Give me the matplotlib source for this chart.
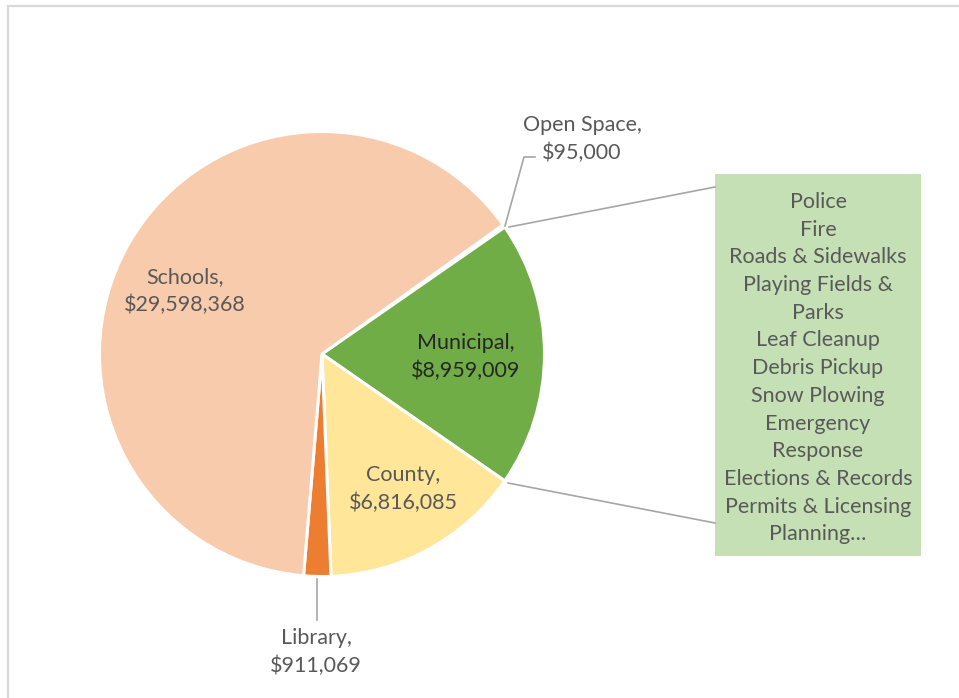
import matplotlib.pyplot as plt
from matplotlib.patches import Rectangle

# Data
labels = ["Open Space", "Municipal", "County", "Library", "Schools"]
amounts = [95000, 8959009, 6816085, 911069, 29598368]
colors = ["#FFFFFF", "#70AD47", "#FFE699", "#ED7D31", "#F8CBAD"]
services = ["Police", "Fire", "Roads & Sidewalks", "Playing Fields &", "Parks",
            "Leaf Cleanup", "Debris Pickup", "Snow Plowing", "Emergency",
            "Response", "Elections & Records", "Permits & Licensing", "Planning\u2026"]

W, H = 959, 698
plt.rcParams['font.family'] = ['Lato', 'DejaVu Sans']

fig = plt.figure(figsize=(W / 100, H / 100), dpi=100)
ax = fig.add_axes([0, 0, 1, 1])
ax.set_xlim(0, W)
ax.set_ylim(0, H)
ax.axis('off')


def Y(y):
    # pixel row from top -> data y
    return H - y


cx, cy, r = 322, 354, 222.5
ax.pie(amounts, colors=colors, startangle=35.5, counterclock=False,
       center=(cx, Y(cy)), radius=r,
       wedgeprops=dict(edgecolor='white', linewidth=2.2))
ax.set_xlim(0, W)
ax.set_ylim(0, H)
ax.set_aspect('auto')

# outer border (chart area)
ax.add_patch(Rectangle((8, -5), W, Y(6) + 5, fill=False,
                       edgecolor='#D9D9D9', linewidth=1.6))

txt = '#595959'
fs = 15.5
lw = 1.2
lc = '#A6A6A6'


def label(x, y, lines, color=txt):
    for i, s in enumerate(lines):
        ax.text(x, Y(y + i * 27.5), s, ha='center', va='center', fontsize=fs,
                color=color)


fmt = lambda v: "${:,}".format(v)

label(185, 277, ["Schools,", fmt(amounts[4])])
label(466, 343, ["Municipal,", fmt(amounts[1])], color='#262626')
label(403, 475, ["County,", fmt(amounts[2])])
label(316, 638, ["Library,", fmt(amounts[3])])
label(582, 125, ["Open Space,", fmt(amounts[0])])

# leader lines
ax.plot([317, 317], [Y(579), Y(620)], color=lc, lw=lw)
ax.plot([505, 524, 535], [Y(226), Y(157), Y(157)], color=lc, lw=lw)

# callout box for Municipal
ax.add_patch(Rectangle((715, Y(556)), 206, 382, facecolor='#C5E0B4',
                       edgecolor='none'))
ax.plot([509, 715], [Y(227), Y(187)], color=lc, lw=lw)
ax.plot([508, 715], [Y(483), Y(523)], color=lc, lw=lw)
for i, s in enumerate(services):
    ax.text(818, Y(202 + i * 27.7), s, ha='center', va='center', fontsize=fs,
            color=txt)

fig.savefig("out.png", dpi=100, facecolor='white')
